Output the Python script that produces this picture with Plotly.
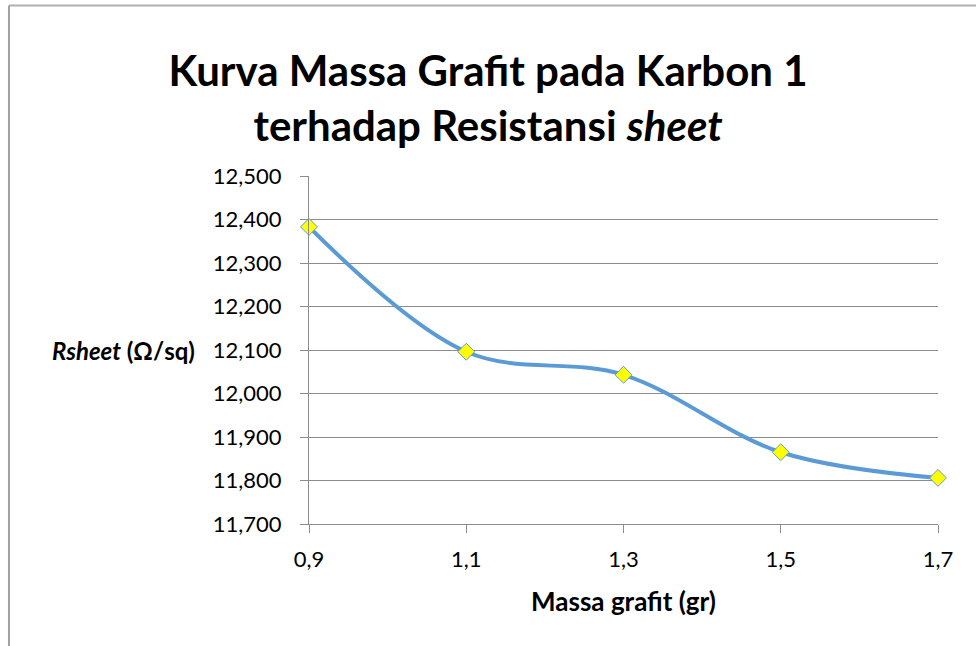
import plotly.graph_objects as go

# data
massa_grafit = [0.9, 1.1, 1.3, 1.5, 1.7]
massa_label = ["0,9", "1,1", "1,3", "1,5", "1,7"]
rsheet = [12383, 12096, 12043, 11865, 11806]
y_ticks = [11700, 11800, 11900, 12000, 12100, 12200, 12300, 12400, 12500]

FONT = "Lato"
GRID = "#8c8c8c"

fig = go.Figure(go.Scatter(
    x=massa_grafit,
    y=rsheet,
    mode="lines+markers",
    line=dict(color="#5B9BD5", width=4, shape="spline", smoothing=1),
    marker=dict(symbol="diamond", size=13, color="#FFFF00",
                line=dict(color="#5B9BD5", width=1)),
    cliponaxis=False,
    showlegend=False,
))

fig.update_layout(
    width=976,
    height=646,
    margin=dict(l=309, r=38, t=176, b=122),
    paper_bgcolor="white",
    plot_bgcolor="white",
    font=dict(family=FONT, size=22, color="black"),
    title=dict(
        text="<b>Kurva Massa Grafit pada Karbon 1<br>terhadap Resistansi <i>sheet</i></b>",
        x=0.5, xanchor="center", y=0.867, yanchor="middle",
        font=dict(family=FONT, size=42, color="black"),
    ),
    xaxis=dict(
        range=[0.9, 1.7],
        tickvals=massa_grafit,
        ticktext=massa_label,
        showgrid=False,
        zeroline=False,
        showline=True, linecolor=GRID, linewidth=1,
        ticks="outside", ticklen=8, tickcolor=GRID,
        ticklabelstandoff=8,
        title=dict(text="<b>Massa grafit (gr)</b>", font=dict(size=26), standoff=21),
    ),
    yaxis=dict(
        range=[11700, 12500],
        tickvals=y_ticks,
        tickformat=",d",
        showgrid=True, gridcolor=GRID, gridwidth=1,
        zeroline=False,
        showline=True, linecolor=GRID, linewidth=1,
        ticks="outside", ticklen=8, tickcolor=GRID,
        ticklabelstandoff=14,
    ),
    annotations=[dict(
        text="<b><i>Rsheet</i> (Ω/sq)</b>",
        xref="paper", x=-0.178, xanchor="right",
        yref="y", y=12100, yanchor="middle",
        showarrow=False, font=dict(family=FONT, size=24),
    )],
    shapes=[
        dict(type="line", xref="paper", yref="paper",
             x0=-0.477, x1=1.07, y0=1.49, y1=1.49,
             line=dict(color="#b0b0b0", width=2)),
        dict(type="line", xref="paper", yref="paper",
             x0=-0.477, x1=-0.477, y0=1.49, y1=-0.36,
             line=dict(color="#a0a0a0", width=2)),
    ],
)

fig.write_html("out.html", config={"displayModeBar": False},
               post_script="document.body.style.margin='0';")
